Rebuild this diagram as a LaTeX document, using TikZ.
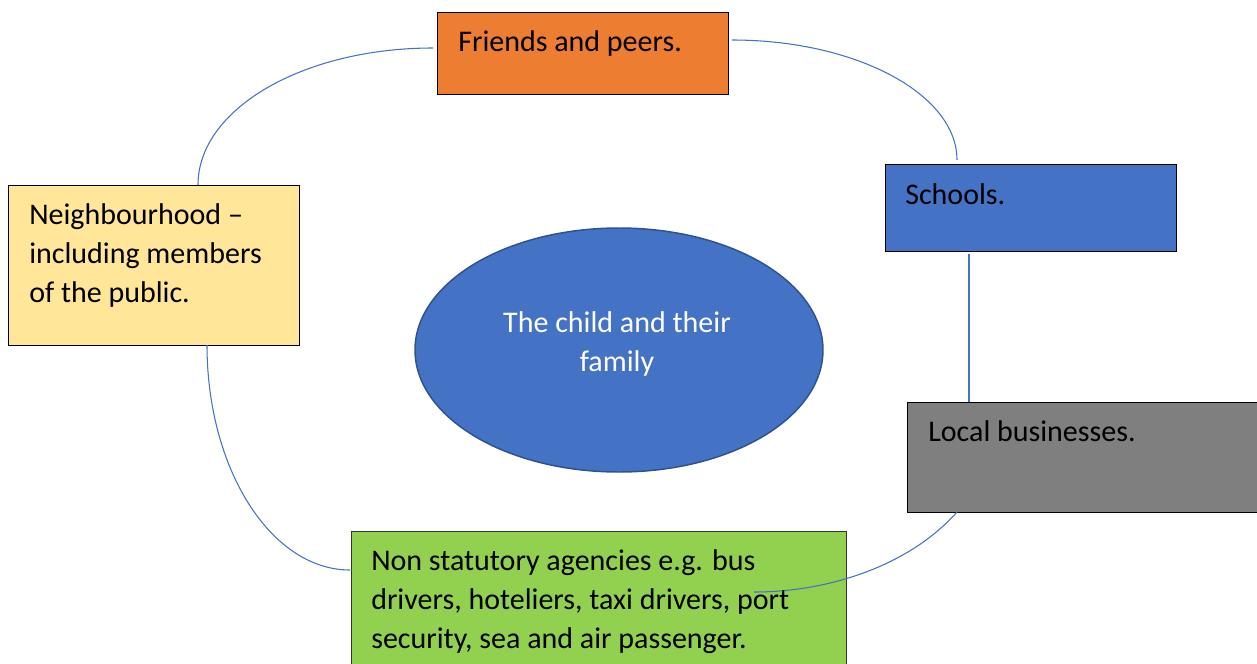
\documentclass[tikz,border=0pt]{standalone}
\usepackage{fontspec}
\setmainfont{Carlito}
\usetikzlibrary{shapes.geometric}
\definecolor{orangebox}{HTML}{ED7D31}
\definecolor{bluebox}{HTML}{4472C4}
\definecolor{yellowbox}{HTML}{FFE699}
\definecolor{greybox}{HTML}{7F7F7F}
\definecolor{greenbox}{HTML}{92D050}
\definecolor{ellipseedge}{HTML}{2F528F}
\definecolor{linkblue}{HTML}{4472C4}
\begin{document}
\begin{tikzpicture}[x=0.75pt,y=-0.75pt,
  box/.style={draw=black, line width=1.1pt, rectangle, inner sep=0pt, anchor=north west},
  boxtext/.style={anchor=base west, inner sep=0pt, align=left,
    font=\fontsize{22.5pt}{29.25pt}\selectfont, text=black},
  link/.style={draw=linkblue, line width=0.8pt}]
\useasboundingbox (0,0) rectangle (1257,664);
\clip (0,0) rectangle (1257,664);

% outer boxes
\node[box, fill=orangebox, minimum width=291*0.75pt, minimum height=82*0.75pt] (friends) at (437,12) {};
\node[box, fill=bluebox, minimum width=291*0.75pt, minimum height=87*0.75pt] (schools) at (885,164) {};
\node[box, fill=yellowbox, minimum width=291*0.75pt, minimum height=160*0.75pt] (neigh) at (8,185) {};
\node[box, fill=greybox, minimum width=360*0.75pt, minimum height=110*0.75pt] (local) at (907,402) {};
\node[box, draw=black!80, fill=greenbox, minimum width=495*0.75pt, minimum height=140*0.75pt] (nonstat) at (351,531) {};

% centre ellipse
\node[ellipse, draw=ellipseedge, line width=1.1pt, fill=bluebox, minimum width=408*0.75pt, minimum height=244*0.75pt, inner sep=0pt] (child) at (619,350) {};

% connectors
\draw[link] (198,185) coordinate (n1) .. controls (198,109) and (303,48) .. (433,48) coordinate (f1);
\draw[link] (732,40) coordinate (f2) .. controls (856,40) and (957,94) .. (957,160) coordinate (s1);
\draw[link] (969,254) coordinate (s2) -- (969,402) coordinate (l1);
\draw[link] (957,512) coordinate (l2) .. controls (910,565) and (830,592) .. (754,592) coordinate (g1);
\draw[link] (207,345) coordinate (n2) .. controls (207,469) and (271,570) .. (350,570) coordinate (g2);

% labels (base anchor of a multi-line label sits on its last line)
\node[boxtext] (friendsT) at (458,51) {Friends and peers.};
\node[boxtext] (schoolsT) at (905,204) {Schools.};
\node[boxtext] (neighT) at (29,302) {Neighbourhood –\\including members\\of the public.};
\node[boxtext] (localT) at (928,441) {Local businesses.};
\node[boxtext] (nonstatT) at (371,648) {Non statutory agencies e.g. bus\\drivers, hoteliers, taxi drivers, port\\security, sea and air passenger.};
\node[boxtext, anchor=base, align=center, text=white] (childT) at (617,371) {The child and their\\family};
\end{tikzpicture}
\end{document}
